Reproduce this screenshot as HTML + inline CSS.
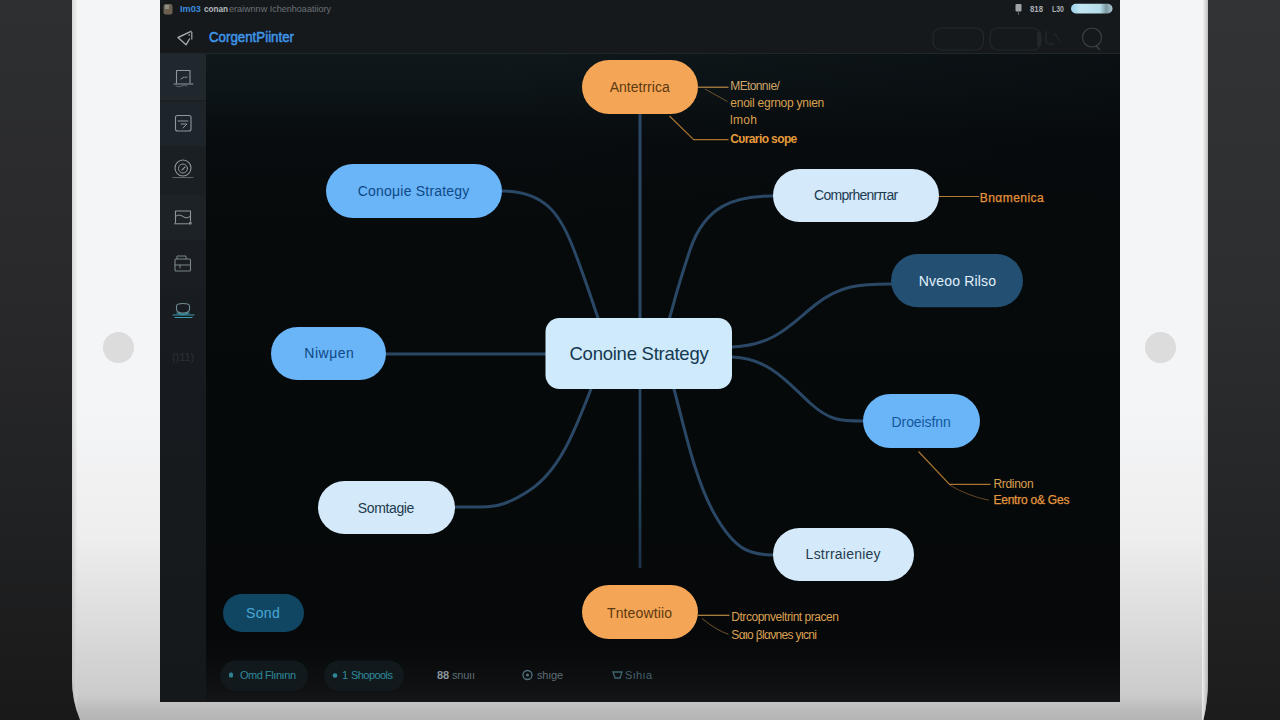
<!DOCTYPE html>
<html>
<head>
<meta charset="utf-8">
<title>Mind map</title>
<style>
  html,body{margin:0;padding:0;}
  body{width:1280px;height:720px;overflow:hidden;position:relative;background:#1c1c1e;font-family:"Liberation Sans",sans-serif;}
  .abs{position:absolute;}
  #bgL{left:0;top:0;width:200px;height:720px;background:linear-gradient(180deg,#2e2f31 0%,#29292b 40%,#212223 70%,#19191a 100%);}
  #bgR{left:1100px;top:0;width:180px;height:720px;background:linear-gradient(180deg,#323335 0%,#2d2e30 40%,#252627 70%,#1c1c1d 100%);}
  #tablet{left:71.500px;top:-200px;width:1136.500px;height:984px;border-radius:0 0 60px 104px / 0 0 104px 104px;overflow:hidden;
    background:linear-gradient(180deg,#f4f5f6 0%,#f4f5f6 62%,#eeeeef 75%,#d9d9da 85%,#cbcbcb 91%,#bababa 92.500%,#b2b2b2 94%,#a8a8a8 100%);}
  #tablet:before{content:"";position:absolute;left:0;top:0;width:5.500px;height:100%;background:linear-gradient(90deg,rgba(190,190,190,.55),rgba(225,225,225,.25));}
  #tablet:after{content:"";position:absolute;right:0;top:0;width:6.500px;height:100%;background:linear-gradient(90deg,rgba(255,255,255,.7),rgba(170,170,170,.75));}
  #screen{left:160px;top:0;width:960px;height:702px;background:#070a0c;overflow:hidden;}
  .node{position:absolute;display:flex;align-items:center;justify-content:center;white-space:nowrap;}
</style>
</head>
<body>
<div id="bgL" class="abs"></div>
<div id="bgR" class="abs"></div>
<div id="tablet" class="abs"></div>
<div class="abs" style="left:103px;top:332px;width:31px;height:31px;border-radius:50%;background:#dcdcdd;"></div>
<div class="abs" style="left:1145px;top:332px;width:31px;height:31px;border-radius:50%;background:#dcdcdd;"></div>
<div id="screen" class="abs">
<!--S0-->
<svg class="abs" style="left:0;top:0" width="960" height="702" viewBox="160 0 960 702" font-family="Liberation Sans, sans-serif">
  <defs>
    <linearGradient id="cg" x1="0" y1="0" x2="0" y2="1">
      <stop offset="0.077" stop-color="#0f181b"/>
      <stop offset="0.130" stop-color="#0c1417"/>
      <stop offset="0.200" stop-color="#080c0e"/>
      <stop offset="0.350" stop-color="#060a0b"/>
      <stop offset="1" stop-color="#060809"/>
    </linearGradient>
    <linearGradient id="vl" gradientUnits="userSpaceOnUse" x1="0" y1="389" x2="0" y2="568">
      <stop offset="0" stop-color="#2a4865"/>
      <stop offset="0.450" stop-color="#274460"/>
      <stop offset="1" stop-color="#1c3349"/>
    </linearGradient>
    <linearGradient id="hz" x1="0" y1="0" x2="1" y2="0">
      <stop offset="0.350" stop-color="#05080a" stop-opacity="0"/>
      <stop offset="1" stop-color="#05080a" stop-opacity="0.450"/>
    </linearGradient>
    <linearGradient id="botg" x1="0" y1="0" x2="0" y2="1">
      <stop offset="0" stop-color="#0e1011" stop-opacity="0"/>
      <stop offset="1" stop-color="#131516" stop-opacity="1"/>
    </linearGradient>
    <linearGradient id="sbg" x1="0" y1="0" x2="0" y2="1">
      <stop offset="0" stop-color="#1b2125"/>
      <stop offset="0.5" stop-color="#171b1f"/>
      <stop offset="1" stop-color="#15181b"/>
    </linearGradient>
  </defs>
  <!-- canvas -->
  <rect x="160" y="0" width="960" height="702" fill="url(#cg)"/>
  <rect x="160" y="54" width="960" height="160" fill="url(#hz)"/>
  <rect x="160" y="640" width="960" height="62" fill="url(#botg)"/>
  <!-- header -->
  <rect x="160" y="0" width="960" height="54" fill="#15191c"/>
  <rect x="160" y="53" width="960" height="1" fill="#20262a"/>
  <!-- sidebar -->
  <rect x="160" y="54" width="46" height="648" fill="url(#sbg)"/>
  <rect x="160" y="54" width="46" height="46" fill="#20282d"/>
  <rect x="160" y="102" width="46" height="44" fill="#1e252a"/>
  <rect x="160" y="147" width="46" height="46" fill="#1a1f23"/>
  <rect x="160" y="195" width="46" height="45" fill="#1c2226"/>
  <rect x="160" y="241" width="46" height="46" fill="#1a1e22"/>

  <!-- connectors -->
  <g fill="none" stroke="#2a4865" stroke-width="3" stroke-linecap="round">
    <path d="M640,114 V318"/>
    <path d="M640,389 V568" stroke="url(#vl)" stroke-width="2.700" stroke-linecap="butt"/>
    <path d="M386,354 H546"/>
    <path d="M502,191 C545,191 560,215 572,245 S590,295 598,318"/>
    <path d="M773,196 C735,196 705,205 690,250 S675,300 669.5,318"/>
    <path d="M732,347 C775,345 790,325 815,305 S860,284 891,284"/>
    <path d="M732,357 C770,358 790,385 810,403 S840,421 864,421"/>
    <path d="M591,389 C575,430 560,470 530,490 S490,507 455,507"/>
    <path d="M674,389 C685,430 695,480 715,515 S750,555 773,555"/>
  </g>

  <!-- nodes -->
  <rect x="582" y="60" width="116" height="54" rx="27" fill="#f5a556"/>
  <rect x="582" y="585" width="116" height="54" rx="27" fill="#f5a556"/>
  <rect x="326" y="164" width="176" height="54" rx="27" fill="#6ab4f8"/>
  <rect x="773" y="169" width="166" height="53" rx="26.5" fill="#d4eafb"/>
  <rect x="891" y="254" width="132" height="53.300" rx="26.650" fill="#234f72"/>
  <rect x="271" y="327" width="115" height="53" rx="26.5" fill="#6ab4f8"/>
  <rect x="545.5" y="318" width="186.5" height="71" rx="14" fill="#cfeafb"/>
  <rect x="863" y="394" width="117" height="54" rx="27" fill="#6ab4f8"/>
  <rect x="318" y="481" width="137" height="53" rx="26.5" fill="#d4eafb"/>
  <rect x="773" y="528" width="141" height="53" rx="26.5" fill="#d4eafb"/>
  <rect x="223" y="594" width="81" height="38" rx="19" fill="#114662"/>

  <g font-size="14" lengthAdjust="spacingAndGlyphs">
    <text x="609.700" y="91.600" fill="#5c3a10" textLength="60">Antetrrica</text>
    <text x="607" y="617.800" fill="#5c3a10" textLength="65">Tnteowtiio</text>
    <text x="357.800" y="196" fill="#0e4a85" textLength="111.500">Conoμie Strategy</text>
    <text x="814" y="200.300" fill="#1c3a50" textLength="84.200">Comprhenrπar</text>
    <text x="918.800" y="285.700" fill="#e0f0fb" textLength="77.200">Nveoo Rilso</text>
    <text x="304.300" y="358.200" fill="#0e4a85" textLength="49.600">Niwμen</text>
    <text x="569.500" y="359.700" fill="#143850" font-size="18.500" textLength="139.200">Conoine Strategy</text>
    <text x="891.600" y="426.600" fill="#14589c" textLength="59.100">Droeisfnn</text>
    <text x="357.800" y="512.900" fill="#213a4c" textLength="56.600">Somtagie</text>
    <text x="805.600" y="559.400" fill="#253c4c" textLength="75">Lstrraieniey</text>
    <text x="246" y="617.500" fill="#4aa8d8" textLength="33.700">Sond</text>
  </g>
  <!-- header content -->
  <g>
    <rect x="163.500" y="4" width="9" height="10.500" rx="2" fill="#6b5f50"/>
    <rect x="165" y="5" width="4" height="4" fill="#8d8e86"/>
    <text x="180" y="11.600" font-size="9.500" font-weight="bold" fill="#3a8cdc" textLength="21" lengthAdjust="spacingAndGlyphs">Im03</text>
    <text x="204" y="11.600" font-size="9.800" font-weight="bold" fill="#b4b9bd" textLength="24" lengthAdjust="spacingAndGlyphs">conan</text>
    <text x="229" y="11.600" font-size="9.800" fill="#6d7378" textLength="102" lengthAdjust="spacingAndGlyphs">eraiwnnw Ichenhoaatiiory</text>
    <path d="M191,31.300 L178,37.500 L186,44.800 L189.500,39" fill="none" stroke="#a3a9ad" stroke-width="1.400" stroke-linejoin="round" stroke-linecap="round"/>
    <path d="M191.800,32 v7.500 M188.500,35.500 l1.500,-1" stroke="#a3a9ad" stroke-width="1.200" fill="none"/>
    <text x="209" y="42.300" font-size="15.500" fill="#3f96e8" stroke="#3f96e8" stroke-width="0.550" textLength="85" lengthAdjust="spacingAndGlyphs">CorgentPiinter</text>
    <!-- right status -->
    <rect x="1015.500" y="4" width="6" height="7.500" rx="1" fill="#9ea4a8"/>
    <path d="M1018.500,12 v3" stroke="#555b60" stroke-width="1"/>
    <text x="1030" y="11.800" font-size="9.500" font-weight="bold" fill="#a9aeb2" textLength="13" lengthAdjust="spacingAndGlyphs">818</text>
    <text x="1052" y="11.800" font-size="9.500" font-weight="bold" fill="#a9aeb2" textLength="12" lengthAdjust="spacingAndGlyphs">L30</text>
    <linearGradient id="bat" x1="0" y1="0" x2="1" y2="0">
      <stop offset="0" stop-color="#9ad2ea"/>
      <stop offset="0.250" stop-color="#c4e6f2"/>
      <stop offset="0.700" stop-color="#b4dcea"/>
      <stop offset="0.850" stop-color="#7d979f"/>
      <stop offset="1" stop-color="#a9cbd6"/>
    </linearGradient>
    <rect x="1071" y="3.800" width="41.500" height="9.700" rx="4.850" fill="url(#bat)"/>
    <rect x="933" y="28" width="50.500" height="22" rx="8" fill="none" stroke="#22282c" stroke-width="1.200"/>
    <rect x="990" y="28" width="51" height="22" rx="8" fill="none" stroke="#22282c" stroke-width="1.200"/>
    <rect x="1037" y="32" width="4" height="14" fill="#22272b"/>
    <path d="M1046,31 v10 q1,4 8,3 M1054,33 l6,8" fill="none" stroke="#1e2327" stroke-width="2"/>
    <circle cx="1092" cy="37.500" r="9.500" fill="none" stroke="#3a4146" stroke-width="1.200"/>
    <path d="M1096,46 l4,4" stroke="#3a4146" stroke-width="1.200"/>
  </g>

  <!-- sidebar icons -->
  <g fill="none" stroke="#8e979d" stroke-width="1.100" stroke-linecap="round" stroke-linejoin="round">
    <!-- 1 monitor -->
    <path d="M176.500,83 V70.500 H190 V83"/>
    <path d="M174,84 H193"/>
    <path d="M176,86 q3,1.500 6,0 t5,0" stroke-width="0.800" stroke="#6d767c"/>
    <path d="M181,79 l3,-2 M185,77.500 l2,-0.500" stroke-width="1"/>
    <!-- 2 rounded square -->
    <rect x="175.500" y="115.500" width="15.500" height="15.500" rx="2"/>
    <path d="M178,121 h10 M181,124 h6 l-4,4" stroke-width="1"/>
    <!-- 3 target -->
    <circle cx="183" cy="168" r="8"/>
    <circle cx="183" cy="168.500" r="4.500" stroke-width="1"/>
    <path d="M182,170 l3,-3"/>
    <path d="M173,177.500 h20" stroke-width="0.800" stroke="#6d767c"/>
    <!-- 4 -->
    <path d="M175.500,222.500 V211 H190.500 V221" />
    <path d="M174.500,223.800 H188.500 M175.500,216.500 q3.500,-3 7.500,0 t7.500,-0.500" stroke-width="1"/>
    <circle cx="190.300" cy="223.300" r="0.900"/>
    <!-- 5 -->
    <g stroke="#7b848a">
    <rect x="175" y="259" width="15.500" height="12" rx="1"/>
    <path d="M177,259 v-3 h9 v3 M175,265 h15 M180,265 v3" stroke-width="1"/>
    </g>
    <!-- 6 teal -->
    <g stroke="#3c9cab">
    <path d="M176.500,306 q0,-2.500 6.500,-2.500 t6.500,2.500 v3 q0,4 -6.500,4 t-6.500,-4 z" stroke="#6f8a92"/>
    <path d="M173,315 h21 M175,317.500 h17 M177,313 q6,2 12,0" stroke-width="1.200"/>
    </g>
  </g>
  <text x="183" y="361" font-size="10" fill="#2b3237" text-anchor="middle" textLength="22" lengthAdjust="spacingAndGlyphs">()11)</text>

  <!-- annotations -->
  <g fill="none" stroke-width="1.200">
    <path d="M698,87.200 H728.500" stroke="#b98a48"/>
    <path d="M705,89 L727.500,101.600" stroke="#7d5b30" stroke-width="0.900"/>
    <path d="M669.500,116 L693.700,139.700 H728.500" stroke="#a8742e"/>
    <path d="M939,196.500 H979" stroke="#b47c30"/>
    <path d="M918.500,451.500 L949.500,484.400 H990.500" stroke="#a8742e"/>
    <path d="M949.500,485 Q968,496 989,500.300" stroke="#6e4e26" stroke-width="0.900"/>
    <path d="M698,615.300 H729.500" stroke="#b98a48"/>
    <path d="M702,618.500 Q716,630 728.500,634.400" stroke="#7d5b30" stroke-width="0.900"/>
  </g>
  <g font-size="12" fill="#e3963e" lengthAdjust="spacingAndGlyphs">
    <text x="730.300" y="90" fill="#cfa468" textLength="49.500">MEtonnıe/</text>
    <text x="730.300" y="107" fill="#d9a050" textLength="94">enoil egrnop ynιen</text>
    <text x="730" y="123.700" fill="#d9a050" textLength="27">lmoh</text>
    <text x="730.300" y="143.400" font-weight="bold" fill="#e59a3c" textLength="67">Cυrario sope</text>
    <text x="979.700" y="202" fill="#e3923a" stroke="#e3923a" stroke-width="0.250" textLength="64">Bnαmenica</text>
    <text x="993.400" y="487.800" fill="#d9a050" textLength="40.300">Rrdinon</text>
    <text x="993.400" y="504" fill="#e3963e" stroke="#e3963e" stroke-width="0.250" textLength="76">Eentro o&amp; Ges</text>
    <text x="731.300" y="621.300" fill="#dca052" textLength="107.700">Dtrcopnveltrint pracen</text>
    <text x="731.300" y="638.700" fill="#dca052" textLength="85.700">Sαιo βlανnes yιcni</text>
  </g>

  <!-- bottom bar -->
  <rect x="220.300" y="660.600" width="87.700" height="30.400" rx="15.200" fill="#12191d"/>
  <rect x="324" y="660.600" width="80" height="30.400" rx="15.200" fill="#12191d"/>
  <g font-size="11" lengthAdjust="spacingAndGlyphs">
    <rect x="229" y="672.500" width="4" height="5" rx="1.500" fill="#2f7f90"/>
    <text x="240" y="679" fill="#2e8a9b" textLength="56">Omd Flınınn</text>
    <circle cx="335" cy="675.500" r="2.300" fill="#2f8a9b"/>
    <text x="342" y="679" fill="#2e8a9b" textLength="4">1</text>
    <text x="351" y="679" fill="#2e8a9b" textLength="42">Shopools</text>
    <text x="437" y="679" fill="#8b959b" textLength="12" font-weight="bold">88</text>
    <text x="452" y="679" fill="#5f6d76" textLength="23">snuıı</text>
    <circle cx="527.500" cy="675" r="4.500" fill="none" stroke="#55727f" stroke-width="1.300"/>
    <circle cx="527.500" cy="675" r="1.500" fill="#55727f"/>
    <text x="537" y="679" fill="#5f6d76" textLength="26">shıge</text>
    <path d="M613,672 h9 l-2,6 h-5 z" fill="none" stroke="#3f6470" stroke-width="1.300"/>
    <text x="625" y="679" fill="#47626e" textLength="27">Sıhıa</text>
  </g>
</svg>
<!--S1-->
</div>
</body>
</html>
